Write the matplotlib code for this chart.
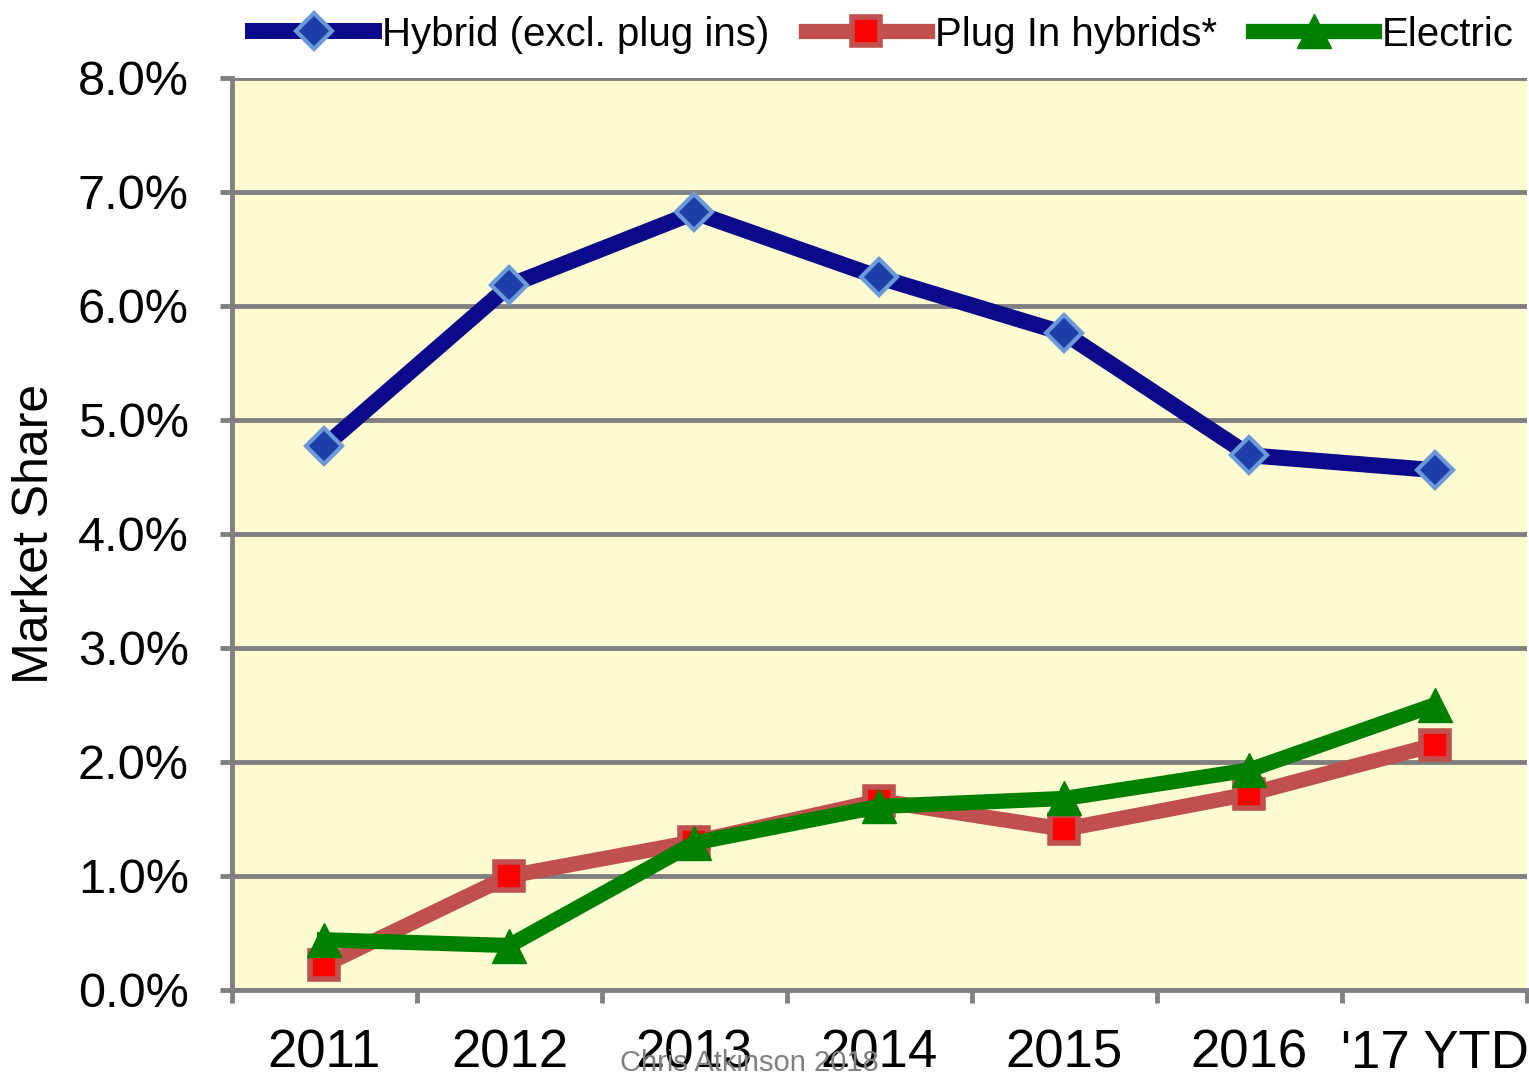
import matplotlib
matplotlib.use("Agg")
import matplotlib.pyplot as plt
from matplotlib.ticker import FixedLocator, FuncFormatter

plt.rcParams['font.family'] = ['Liberation Sans', 'DejaVu Sans']

# data
years = ['2011', '2012', '2013', '2014', '2015', '2016', "'17 YTD"]
hybrid = [4.77, 6.18, 6.82, 6.25, 5.76, 4.69, 4.56]
plugin = [0.22, 1.0, 1.3, 1.66, 1.41, 1.72, 2.15]
electric = [0.44, 0.39, 1.29, 1.61, 1.68, 1.93, 2.5]

fig = plt.figure(figsize=(15.29, 10.81), dpi=100)
ax = fig.add_axes([0.1517, 0.0842, 0.847, 0.8437])
ax.set_facecolor('#FEFCD0')

x = list(range(len(years)))
ax.plot(x, hybrid, color='#0A0A8A', lw=11.5, marker='D', ms=18,
        mfc='#1F3FA8', mec='#6A9AD8', mew=3, label='Hybrid (excl. plug ins)', zorder=5)
ax.plot(x, plugin, color='#C0504D', lw=11, marker='s', ms=20,
        mfc='#FF0000', mec='#C0504D', mew=4, label='Plug In hybrids*', zorder=4)
ax.plot(x, electric, color='#008000', lw=11, marker='^', ms=24,
        mfc='#008000', mec='#008000', label='Electric', zorder=6)

ax.set_xlim(-0.5, len(years) - 0.5)
ax.set_ylim(0, 8)
ax.set_yticks([i for i in range(9)])
ax.yaxis.set_major_formatter(FuncFormatter(lambda v, p: f'{v:.1f}%'))
ax.grid(axis='y', color='#808080', lw=3.5)
ax.set_axisbelow(True)

ax.set_xticks(x)
ax.set_xticklabels(years)
ax.xaxis.set_minor_locator(FixedLocator([i - 0.5 for i in range(len(years) + 1)]))
ax.tick_params(axis='x', which='major', length=0, labelsize=38, pad=28)
ax.tick_params(axis='x', which='minor', length=9, width=3.5, color='#808080')
ax.tick_params(axis='y', length=9, width=3.5, color='#808080', labelsize=35, pad=22)

for s in ['top', 'right']:
    ax.spines[s].set_visible(False)
for s in ['left', 'bottom']:
    ax.spines[s].set_color('#808080')
    ax.spines[s].set_linewidth(3.5)

ax.set_ylabel('Market Share', fontsize=36, labelpad=14)

fig.legend(loc='upper center', bbox_to_anchor=(0.578, 1.008), ncol=3, frameon=False,
           fontsize=29, handlelength=3.0, handletextpad=0.2, columnspacing=0.9,
           borderaxespad=0.2)

fig.text(0.49, 0.017, 'Chris Atkinson 2018', fontsize=21, color='#808080',
         ha='center', va='center')

fig.savefig('out.png', dpi=100)
